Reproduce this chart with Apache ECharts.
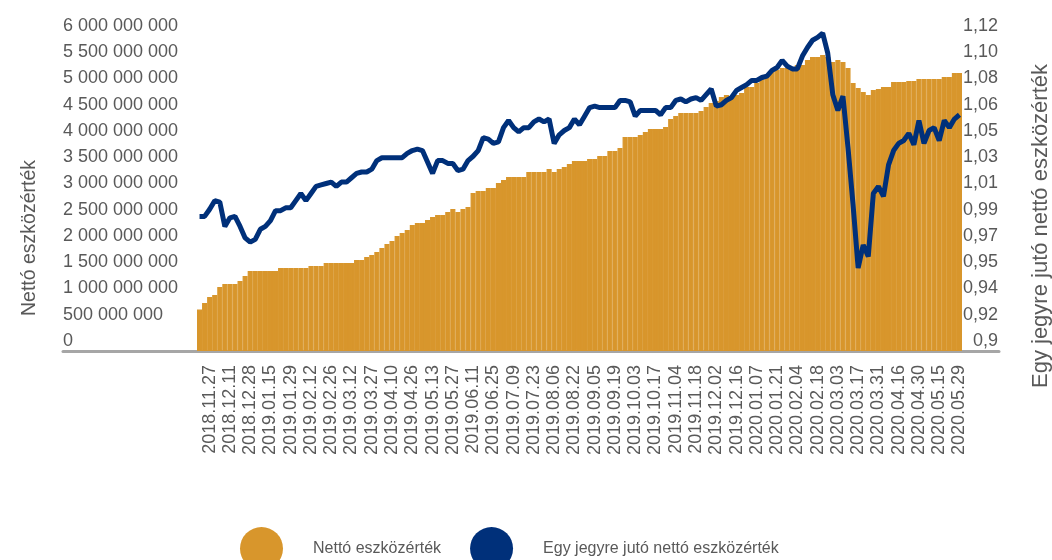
<!DOCTYPE html>
<html>
<head>
<meta charset="utf-8">
<script src="https://cdn.jsdelivr.net/npm/echarts@6/dist/echarts.min.js"></script>
<style>
html, body { margin: 0; padding: 0; background: #fff; }
#chart { width: 1052px; height: 560px; }
</style>
</head>
<body>
<div id="chart"></div>
<script>
var dates = [
    '2018.11.21', '2018.11.23',
    '2018.11.27', '2018.11.29', '2018.12.04', '2018.12.06',
    '2018.12.11', '2018.12.13', '2018.12.18', '2018.12.20',
    '2018.12.28', '2019.01.03', '2019.01.08', '2019.01.10',
    '2019.01.15', '2019.01.17', '2019.01.22', '2019.01.24',
    '2019.01.29', '2019.01.31', '2019.02.05', '2019.02.07',
    '2019.02.12', '2019.02.14', '2019.02.19', '2019.02.21',
    '2019.02.26', '2019.02.28', '2019.03.05', '2019.03.07',
    '2019.03.12', '2019.03.14', '2019.03.19', '2019.03.22',
    '2019.03.27', '2019.03.29', '2019.04.03', '2019.04.05',
    '2019.04.10', '2019.04.12', '2019.04.17', '2019.04.24',
    '2019.04.26', '2019.04.30', '2019.05.06', '2019.05.08',
    '2019.05.13', '2019.05.15', '2019.05.20', '2019.05.22',
    '2019.05.27', '2019.05.29', '2019.06.03', '2019.06.06',
    '2019.06.11', '2019.06.13', '2019.06.18', '2019.06.20',
    '2019.06.25', '2019.06.27', '2019.07.02', '2019.07.04',
    '2019.07.09', '2019.07.11', '2019.07.16', '2019.07.18',
    '2019.07.23', '2019.07.25', '2019.07.30', '2019.08.01',
    '2019.08.06', '2019.08.08', '2019.08.13', '2019.08.16',
    '2019.08.22', '2019.08.26', '2019.08.29', '2019.09.02',
    '2019.09.05', '2019.09.09', '2019.09.12', '2019.09.16',
    '2019.09.19', '2019.09.23', '2019.09.26', '2019.09.30',
    '2019.10.03', '2019.10.07', '2019.10.10', '2019.10.14',
    '2019.10.17', '2019.10.21', '2019.10.25', '2019.10.30',
    '2019.11.04', '2019.11.06', '2019.11.11', '2019.11.13',
    '2019.11.18', '2019.11.20', '2019.11.25', '2019.11.27',
    '2019.12.02', '2019.12.04', '2019.12.09', '2019.12.11',
    '2019.12.16', '2019.12.18', '2019.12.23', '2020.01.02',
    '2020.01.07', '2020.01.09', '2020.01.14', '2020.01.16',
    '2020.01.21', '2020.01.23', '2020.01.28', '2020.01.30',
    '2020.02.04', '2020.02.06', '2020.02.11', '2020.02.13',
    '2020.02.18', '2020.02.20', '2020.02.25', '2020.02.27',
    '2020.03.03', '2020.03.05', '2020.03.10', '2020.03.12',
    '2020.03.17', '2020.03.19', '2020.03.24', '2020.03.26',
    '2020.03.31', '2020.04.02', '2020.04.07', '2020.04.14',
    '2020.04.16', '2020.04.20', '2020.04.23', '2020.04.27',
    '2020.04.30', '2020.05.05', '2020.05.08', '2020.05.12',
    '2020.05.15', '2020.05.19', '2020.05.22', '2020.05.26',
    '2020.05.29'
];

// nettó eszközérték, millió Ft
var navMillions = [
    790, 914, 1029, 1067, 1219, 1276, 1276, 1276, 1334, 1429,
    1524, 1524, 1524, 1524, 1524, 1524, 1581, 1581, 1581, 1581,
    1581, 1581, 1619, 1619, 1619, 1676, 1676, 1676, 1676, 1676,
    1676, 1734, 1734, 1791, 1829, 1886, 1962, 2038, 2096, 2191,
    2248, 2305, 2400, 2438, 2438, 2496, 2553, 2591, 2591, 2648,
    2705, 2648, 2705, 2743, 3010, 3048, 3048, 3105, 3105, 3200,
    3258, 3315, 3315, 3315, 3315, 3410, 3410, 3410, 3410, 3467,
    3410, 3467, 3505, 3562, 3620, 3620, 3620, 3658, 3658, 3715,
    3715, 3810, 3810, 3867, 4077, 4077, 4077, 4115, 4172, 4229,
    4229, 4229, 4267, 4420, 4477, 4534, 4534, 4534, 4534, 4572,
    4648, 4724, 4763, 4839, 4877, 4858, 4877, 4915, 5029, 5029,
    5105, 5201, 5258, 5315, 5353, 5391, 5391, 5353, 5448, 5448,
    5544, 5601, 5601, 5639, 5601, 5505, 5544, 5505, 5391, 5105,
    5010, 4934, 4877, 4972, 4991, 5029, 5029, 5124, 5124, 5124,
    5144, 5144, 5182, 5182, 5182, 5182, 5182, 5220, 5220, 5296,
    5296
];

// egy jegyre jutó nettó eszközérték
var navPerUnit = [
    0.994, 0.994, 0.999, 1.005, 1.004, 0.987, 0.993, 0.994, 0.987, 0.979,
    0.976, 0.978, 0.985, 0.987, 0.991, 0.998, 0.998, 1.000, 1.000, 1.005,
    1.010, 1.005, 1.010, 1.015, 1.016, 1.017, 1.018, 1.015, 1.018, 1.018,
    1.021, 1.024, 1.025, 1.025, 1.027, 1.033, 1.035, 1.035, 1.035, 1.035,
    1.035, 1.038, 1.040, 1.041, 1.040, 1.032, 1.024, 1.033, 1.033, 1.031,
    1.031, 1.026, 1.027, 1.033, 1.036, 1.040, 1.049, 1.048, 1.045, 1.046,
    1.056, 1.061, 1.056, 1.053, 1.056, 1.056, 1.060, 1.062, 1.060, 1.062,
    1.045, 1.051, 1.054, 1.056, 1.062, 1.058, 1.064, 1.070, 1.071, 1.070,
    1.070, 1.070, 1.070, 1.075, 1.075, 1.074, 1.064, 1.068, 1.068, 1.068,
    1.068, 1.065, 1.070, 1.070, 1.075, 1.076, 1.074, 1.076, 1.077, 1.075,
    1.079, 1.083, 1.071, 1.072, 1.075, 1.077, 1.082, 1.084, 1.086, 1.089,
    1.089, 1.091, 1.092, 1.096, 1.098, 1.103, 1.099, 1.097, 1.097, 1.106,
    1.112, 1.117, 1.119, 1.122, 1.108, 1.079, 1.068, 1.078, 1.042, 1.002,
    0.958, 0.974, 0.966, 1.010, 1.015, 1.008, 1.030, 1.040, 1.045, 1.047,
    1.052, 1.044, 1.061, 1.045, 1.054, 1.056, 1.047, 1.061, 1.056, 1.062,
    1.065
];

var leftTicks = ['0', '500 000 000', '1 000 000 000', '1 500 000 000', '2 000 000 000',
    '2 500 000 000', '3 000 000 000', '3 500 000 000', '4 000 000 000',
    '4 500 000 000', '5 000 000 000', '5 500 000 000', '6 000 000 000'];
var rightTicks = ['0,9', '0,92', '0,94', '0,95', '0,97', '0,99', '1,01',
    '1,03', '1,05', '1,06', '1,08', '1,10', '1,12'];

var orange = '#D8962C';
var navy = '#00307A';
var grey = '#595959';
var rightStep = 0.22 / 12;

var chart = echarts.init(document.getElementById('chart'));
var option = {
    animation: false,
    textStyle: {
        fontFamily: 'Liberation Sans, Arial, sans-serif'
    },
    legend: {
        left: 240,
        top: 527,
        padding: 0,
        icon: 'circle',
        itemWidth: 43,
        itemHeight: 43,
        itemGap: 29,
        itemStyle: {
            borderWidth: 0
        },
        textStyle: {
            fontSize: 16,
            color: grey,
            padding: [0, 0, 0, 25]
        },
        data: ['Nettó eszközérték', 'Egy jegyre jutó nettó eszközérték']
    },
    grid: [
        {left: 197, right: 90, top: 36, bottom: 209, outerBoundsMode: 'none'},
        // only used for the long grey base line
        {left: 63, right: 53, top: 340, bottom: 209, outerBoundsMode: 'none'}
    ],
    xAxis: [
        {
            type: 'category',
            data: dates,
            axisLine: {show: false},
            axisTick: {show: false},
            axisLabel: {
                rotate: 90,
                margin: 14,
                fontSize: 18,
                color: grey,
                interval: function (index) {
                    return index % 4 === 2;
                }
            }
        },
        {
            type: 'value',
            gridIndex: 1,
            min: 0,
            max: 1,
            axisLine: {show: true, onZero: false, lineStyle: {color: '#A6A6A6', width: 3}},
            axisTick: {show: false},
            axisLabel: {show: false},
            splitLine: {show: false}
        }
    ],
    yAxis: [
        {
            type: 'value',
            min: 0,
            max: 6000000000,
            interval: 500000000,
            name: 'Nettó eszközérték',
            nameLocation: 'middle',
            nameRotate: 90,
            nameGap: 157,
            nameTextStyle: {
                fontSize: 19.5,
                color: grey,
                padding: [0, 89, 0, 0]
            },
            splitLine: {show: false},
            axisLine: {show: false},
            axisTick: {show: false},
            axisLabel: {
                align: 'left',
                margin: 134,
                fontSize: 18,
                color: grey,
                verticalAlign: 'bottom',
                padding: [0, 0, 1, 0],
                formatter: function (v, i) {
                    return leftTicks[i];
                }
            }
        },
        {
            type: 'value',
            position: 'right',
            min: 0.9,
            max: 1.12,
            interval: rightStep,
            name: 'Egy jegyre jutó nettó eszközérték',
            nameLocation: 'middle',
            nameRotate: 90,
            nameGap: 68,
            nameTextStyle: {
                fontSize: 22,
                color: grey,
                padding: [0, 65, 0, 0]
            },
            splitLine: {show: false},
            axisLine: {show: false},
            axisTick: {show: false},
            axisLabel: {
                align: 'right',
                margin: 36,
                fontSize: 18,
                color: grey,
                verticalAlign: 'bottom',
                padding: [0, 0, 1, 0],
                formatter: function (v) {
                    return rightTicks[Math.round((v - 0.9) / rightStep)];
                }
            }
        },
        {
            type: 'value',
            gridIndex: 1,
            min: 0,
            max: 1,
            show: false
        }
    ],
    series: [
        {
            name: 'Nettó eszközérték',
            type: 'bar',
            barCategoryGap: '0%',
            data: navMillions.map(function (v) { return v * 1000000; }),
            itemStyle: {
                color: orange,
                borderColor: orange,
                borderWidth: 1.2
            }
        },
        {
            name: 'Egy jegyre jutó nettó eszközérték',
            type: 'line',
            yAxisIndex: 1,
            data: navPerUnit,
            symbol: 'none',
            clip: false,
            itemStyle: {color: navy},
            lineStyle: {color: navy, width: 5}
        }
    ]
};
chart.setOption(option);
</script>
</body>
</html>
